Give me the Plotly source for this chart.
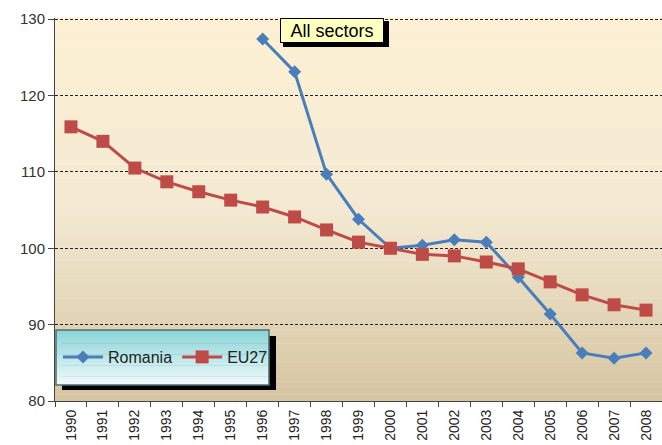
import plotly.graph_objects as go

years = [str(y) for y in range(1990, 2009)]
eu27 = [115.9, 114.0, 110.5, 108.7, 107.4, 106.3, 105.4, 104.1, 102.4, 100.8,
        100.0, 99.2, 99.0, 98.2, 97.3, 95.6, 93.9, 92.6, 91.9]
romania = [None, None, None, None, None, None, 127.4, 123.1, 109.7, 103.8,
           100.0, 100.4, 101.1, 100.8, 96.2, 91.4, 86.3, 85.6, 86.3]
y_ticks = [80, 90, 100, 110, 120, 130]

fig = go.Figure()
fig.add_trace(go.Scatter(x=years, y=romania, name="Romania", mode="lines+markers",
                         line=dict(color="#4A7EBB", width=3),
                         marker=dict(symbol="diamond", size=10, color="#4A7EBB")))
fig.add_trace(go.Scatter(x=years, y=eu27, name="EU27", mode="lines+markers",
                         line=dict(color="#BE4B48", width=3),
                         marker=dict(symbol="square", size=13, color="#BE4B48")))

def lerp(c1, c2, t):
    return tuple(int(round(a + (b - a) * t)) for a, b in zip(c1, c2))

PW, PH = 607.0, 383.0  # plot area in px (for domain fractions)
def fx(px):
    return (px - 55) / PW
def fy(py):
    return (401 - py) / PH

shapes = []
# plot background gradient
top = (253, 240, 212)
mid = (243, 233, 210)
bot = (213, 196, 160)
n = 60
for i in range(n):
    f = i / n
    if f < 0.5:
        c = lerp(top, mid, f / 0.5)
    else:
        c = lerp(mid, bot, (f - 0.5) / 0.5)
    y1 = 1 - i / n
    y0 = 1 - (i + 1) / n
    shapes.append(dict(type="rect", xref="x domain", yref="y domain", x0=0, x1=1,
                       y0=y0, y1=y1 + 0.001, fillcolor="rgb(%d,%d,%d)" % c,
                       line=dict(width=0), layer="below"))

# legend box shadow + gradient
shapes.append(dict(type="rect", xref="x domain", yref="y domain",
                   x0=fx(62), x1=fx(276), y0=fy(390), y1=fy(336),
                   fillcolor="black", line=dict(width=0), layer="above"))
lt = (138, 213, 217)
lb = (238, 249, 250)
m = 20
bx0, bx1, by0, by1 = fx(56), fx(269), fy(385), fy(330)
for i in range(m):
    c = lerp(lt, lb, i / (m - 1))
    ya = by1 - (by1 - by0) * i / m
    yb = by1 - (by1 - by0) * (i + 1) / m
    shapes.append(dict(type="rect", xref="x domain", yref="y domain",
                       x0=bx0, x1=bx1, y0=yb, y1=ya + 0.001,
                       fillcolor="rgb(%d,%d,%d)" % c, line=dict(width=0), layer="above"))
shapes.append(dict(type="rect", xref="x domain", yref="y domain",
                   x0=bx0, x1=bx1, y0=by0, y1=by1,
                   fillcolor="rgba(0,0,0,0)", line=dict(color="#4F6F70", width=1.5),
                   layer="above"))
# title shadow
shapes.append(dict(type="rect", xref="x domain", yref="y domain",
                   x0=fx(283), x1=fx(389), y0=fy(47), y1=fy(21),
                   fillcolor="black", line=dict(width=0), layer="above"))

fig.update_layout(
    width=662, height=445,
    margin=dict(l=55, r=0, t=18, b=44),
    paper_bgcolor="white",
    plot_bgcolor="rgba(0,0,0,0)",
    font=dict(family="Liberation Sans, Arial, sans-serif", color="#222"),
    shapes=shapes,
    showlegend=True,
    legend=dict(orientation="h", x=fx(58), y=fy(357), xanchor="left", yanchor="middle",
                bgcolor="rgba(0,0,0,0)", font=dict(size=16, color="#222"),
                itemwidth=40, tracegroupgap=0),
    annotations=[dict(text="All sectors", xref="x domain", yref="y domain",
                      x=fx(332), y=fy(30), xanchor="center", yanchor="middle",
                      showarrow=False, width=100, height=21,
                      font=dict(size=18, color="black"), bgcolor="#FFFFC0",
                      bordercolor="black", borderwidth=1, borderpad=1)],
    xaxis=dict(type="category", tickangle=-90, tickfont=dict(size=14, color="#222"),
               showgrid=False, showline=True, linecolor="#444", linewidth=1,
               ticks="outside", tickson="boundaries", ticklen=5, tickcolor="#444",
               ticklabelstandoff=2, range=[-0.5, 18.5], automargin=False),
    yaxis=dict(range=[80, 130.15], tickvals=y_ticks, tickfont=dict(size=15, color="#333"),
               showgrid=True, gridcolor="#222", griddash="3px,2px", gridwidth=1,
               showline=True, linecolor="#444", linewidth=1, ticks="outside",
               ticklen=6, tickcolor="#444", zeroline=False, automargin=False),
)

fig.write_html("out.html")
